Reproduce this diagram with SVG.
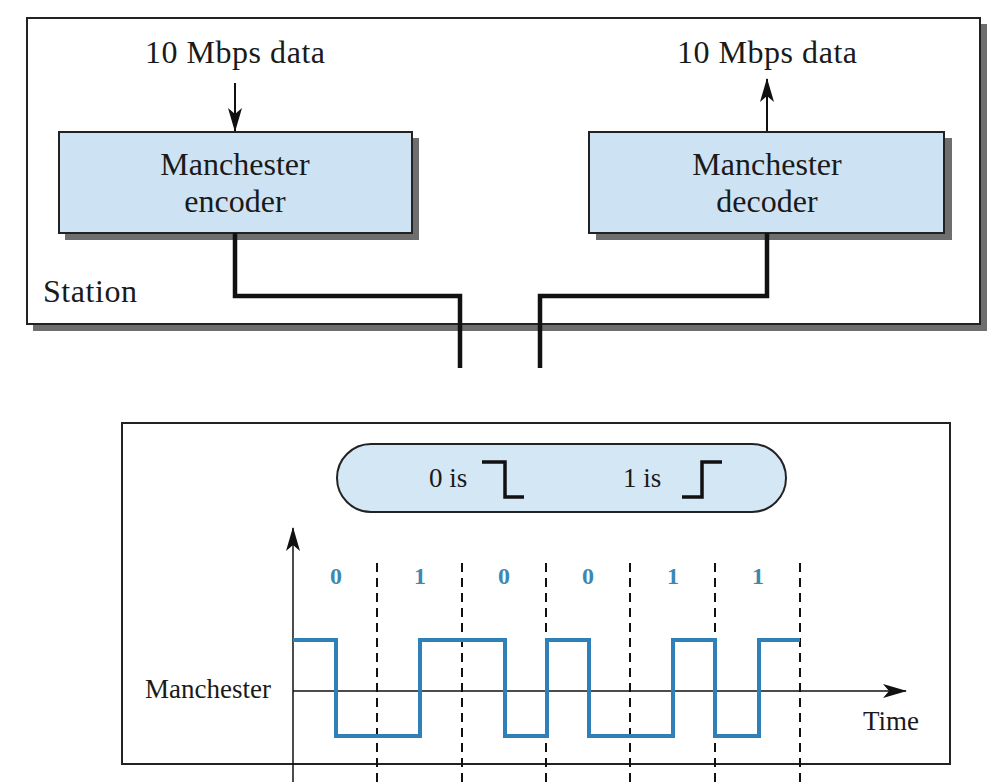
<svg xmlns="http://www.w3.org/2000/svg" width="1004" height="782" viewBox="0 0 1004 782">
<style>
.t{font-family:"Liberation Serif","Times New Roman",serif;fill:#1a1a1a}
.big{font-size:32px}
.mid{font-size:27px}
.bit{font-family:"Liberation Serif",serif;font-size:24px;font-weight:bold;fill:#3b88b4}
.box{fill:#cde3f3;stroke:#222;stroke-width:2}
.shadow{fill:#6e6e6e}
.wire{fill:none;stroke:#111;stroke-width:4.5}
.arr{fill:none;stroke:#111;stroke-width:2}
.dash{stroke:#111;stroke-width:2;stroke-dasharray:9,6}
.sig{fill:none;stroke:#2f7fb8;stroke-width:4}
</style>
<defs>
<marker id="ahb" viewBox="0 0 24 14" refX="23" refY="7" markerWidth="24" markerHeight="14" markerUnits="userSpaceOnUse" orient="auto">
<path d="M0,0 L24,7 L0,14 L6,7 Z" fill="#111"/>
</marker>
</defs>
<rect width="1004" height="782" fill="#fff"/>

<g id="station">
<rect class="shadow" x="33" y="24" width="954" height="307"/>
<rect x="27" y="18" width="953" height="306" fill="#fff" stroke="#222" stroke-width="2"/>
<text class="t big" x="43" y="302" textLength="94">Station</text>
</g>

<g id="encoder">
<rect class="shadow" x="65" y="138" width="354" height="102"/>
<rect class="box" x="59" y="132" width="353" height="101"/>
<text class="t big" x="235" y="175" text-anchor="middle">Manchester</text>
<text class="t big" x="235" y="212" text-anchor="middle">encoder</text>
</g>

<g id="decoder">
<rect class="shadow" x="596" y="138" width="356" height="102"/>
<rect class="box" x="589" y="132" width="355" height="101"/>
<text class="t big" x="767" y="175" text-anchor="middle">Manchester</text>
<text class="t big" x="767" y="212" text-anchor="middle">decoder</text>
</g>

<g id="labels-top">
<text class="t big" x="145" y="63" textLength="180">10 Mbps data</text>
<text class="t big" x="677" y="63" textLength="180">10 Mbps data</text>
</g>

<g id="connectors">
<line class="arr" x1="235" y1="83" x2="235" y2="131" marker-end="url(#ahb)"/>
<line class="arr" x1="767" y1="131" x2="767" y2="79" marker-end="url(#ahb)"/>
<polyline class="wire" points="235,233 235,296 460,296 460,368"/>
<polyline class="wire" points="767,233 767,296 540,296 540,368"/>
</g>

<g id="panel">
<rect x="122" y="423" width="828" height="341" fill="#fff" stroke="#222" stroke-width="2"/>
</g>

<g id="legend">
<path d="M371,444 H752 A34,34 0 0 1 752,512 H371 A34,34 0 0 1 371,444 Z" fill="#d4e7f5" stroke="#222" stroke-width="2"/>
<text class="t mid" x="429" y="487">0 is</text>
<polyline points="482,462 505,462 505,497 524,497" fill="none" stroke="#111" stroke-width="3.5"/>
<text class="t mid" x="623" y="487">1 is</text>
<polyline points="682,497 702,497 702,462 722,462" fill="none" stroke="#111" stroke-width="3.5"/>
</g>

<g id="chart">
<line class="dash" x1="377" y1="563" x2="377" y2="782"/>
<line class="dash" x1="462" y1="563" x2="462" y2="782"/>
<line class="dash" x1="546" y1="563" x2="546" y2="782"/>
<line class="dash" x1="630" y1="563" x2="630" y2="782"/>
<line class="dash" x1="715" y1="563" x2="715" y2="782"/>
<line class="dash" x1="800" y1="563" x2="800" y2="782"/>
<line x1="293" y1="782" x2="293" y2="528" stroke="#111" stroke-width="1.5" marker-end="url(#ahb)"/>
<line x1="293" y1="691" x2="906" y2="691" stroke="#111" stroke-width="1.5" marker-end="url(#ahb)"/>
<polyline class="sig" points="293,640 336,640 336,736 420,736 420,640 505,640 505,736 547,736 547,640 589,640 589,736 673,736 673,640 715,640 715,736 759,736 759,640 800,640"/>
<text class="bit" x="336" y="584" text-anchor="middle">0</text>
<text class="bit" x="420" y="584" text-anchor="middle">1</text>
<text class="bit" x="504" y="584" text-anchor="middle">0</text>
<text class="bit" x="588" y="584" text-anchor="middle">0</text>
<text class="bit" x="673" y="584" text-anchor="middle">1</text>
<text class="bit" x="758" y="584" text-anchor="middle">1</text>
<text class="t mid" x="145" y="698">Manchester</text>
<text class="t mid" x="863" y="730">Time</text>
</g>
</svg>
